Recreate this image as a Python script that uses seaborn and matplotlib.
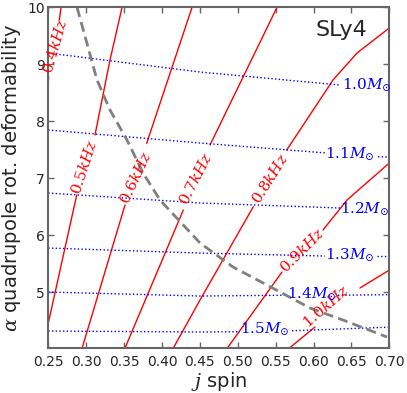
import numpy as np
import pandas as pd
import matplotlib
matplotlib.use("Agg")
import matplotlib.pyplot as plt
import seaborn as sns

# spin frequency contours (red), split in two pieces around the inline label
f04_hi_x = [0.2668, 0.2645]
f04_hi_y = [10.0, 9.777]
f04_lo_x = [0.2504, 0.2495]
f04_lo_y = [8.783, 8.60]
f05_hi_x = [0.3473, 0.3314, 0.3116]
f05_hi_y = [10.0, 9.076, 7.760]
f05_lo_x = [0.2875, 0.2500]
f05_lo_y = [6.708, 4.462]
f06_hi_x = [0.4397, 0.3798]
f06_hi_y = [10.0, 7.614]
f06_lo_x = [0.3512, 0.2941]
f06_lo_y = [6.532, 4.0]
f07_hi_x = [0.5518, 0.4634]
f07_hi_y = [10.0, 7.585]
f07_lo_x = [0.4281, 0.3505]
f07_lo_y = [6.444, 4.0]
f08_hi_x = [0.7000, 0.6574, 0.6257, 0.5646]
f08_hi_y = [9.637, 9.198, 8.725, 7.497]
f08_lo_x = [0.5205, 0.4502, 0.4140]
f08_lo_y = [6.502, 4.866, 4.0]
f09_hi_x = [0.7000, 0.6442, 0.6125]
f09_hi_y = [7.269, 6.620, 6.094]
f09_lo_x = [0.5584, 0.4850]
f09_lo_y = [5.357, 4.0]
f10_hi_x = [0.7000, 0.6613]
f10_hi_y = [5.392, 5.077]
f10_lo_x = [0.6019, 0.5660]
f10_lo_y = [4.392, 4.0]

freq_labels = ["0.4kHz", "0.5kHz", "0.6kHz", "0.7kHz", "0.8kHz", "0.9kHz", "1.0kHz"]
freq_lx = [0.2592, 0.2984, 0.3653, 0.4445, 0.5426, 0.5852, 0.6168]
freq_ly = [9.326, 7.204, 7.018, 7.001, 7.001, 5.731, 4.748]
freq_rot = [74, 72, 65, 63, 58, 45, 41]

# mass contours (blue dotted), head piece and tail piece after the label
m10_x = [0.25, 0.4502, 0.6349]
m10_y = [9.198, 8.865, 8.637]
m11_x = [0.25, 0.4502, 0.6178]
m11_y = [7.848, 7.620, 7.444]
m11_tail_x = [0.6851, 0.70]
m11_tail_y = [7.379, 7.374]
m12_x = [0.25, 0.4502, 0.6349]
m12_y = [6.743, 6.568, 6.480]
m13_x = [0.25, 0.4502, 0.6151]
m13_y = [5.778, 5.690, 5.637]
m13_tail_x = [0.6838, 0.70]
m13_tail_y = [5.637, 5.637]
m14_x = [0.25, 0.4502, 0.5650]
m14_y = [5.006, 4.936, 4.950]
m14_tail_x = [0.6323, 0.70]
m14_tail_y = [4.950, 4.960]
m15_x = [0.25, 0.4502, 0.5030]
m15_y = [4.322, 4.305, 4.310]
m15_tail_x = [0.5716, 0.70]
m15_tail_y = [4.327, 4.390]

mass_labels = ["1.0", "1.1", "1.2", "1.3", "1.4", "1.5"]
mass_lx = [0.6372, 0.6151, 0.6349, 0.6151, 0.5646, 0.5030]
mass_ly = [8.549, 7.351, 6.387, 5.568, 4.896, 4.282]

# dashed gray curve
gray_x = [0.2879, 0.3143, 0.3314, 0.3539, 0.3750, 0.3974, 0.4502, 0.4937, 0.5386, 0.5953, 0.6389, 0.6970]
gray_y = [10.0, 8.725, 8.199, 7.672, 7.094, 6.620, 5.866, 5.445, 5.129, 4.726, 4.515, 4.217]


def long_frame(pieces):
    rows = []
    for i, (xs, ys) in enumerate(pieces):
        for x, y in zip(xs, ys):
            rows.append((x, y, i))
    return pd.DataFrame(rows, columns=["x", "y", "seg"])


sns.set_style("ticks")
plt.rcParams["mathtext.fontset"] = "dejavuserif"
plt.rcParams["font.family"] = ["DejaVu Sans"]

fig = plt.figure(figsize=(4.07, 3.93), dpi=100)
ax = fig.add_axes([0.1187, 0.1153, 0.8378, 0.8661])

red = long_frame([(f04_hi_x, f04_hi_y), (f04_lo_x, f04_lo_y),
                  (f05_hi_x, f05_hi_y), (f05_lo_x, f05_lo_y),
                  (f06_hi_x, f06_hi_y), (f06_lo_x, f06_lo_y),
                  (f07_hi_x, f07_hi_y), (f07_lo_x, f07_lo_y),
                  (f08_hi_x, f08_hi_y), (f08_lo_x, f08_lo_y),
                  (f09_hi_x, f09_hi_y), (f09_lo_x, f09_lo_y),
                  (f10_hi_x, f10_hi_y), (f10_lo_x, f10_lo_y)])
sns.lineplot(data=red, x="x", y="y", units="seg", estimator=None, sort=False,
             color="red", lw=1.0, ax=ax, legend=False)

blue = long_frame([(m10_x, m10_y), (m11_x, m11_y), (m11_tail_x, m11_tail_y),
                   (m12_x, m12_y), (m13_x, m13_y), (m13_tail_x, m13_tail_y),
                   (m14_x, m14_y), (m14_tail_x, m14_tail_y),
                   (m15_x, m15_y), (m15_tail_x, m15_tail_y)])
sns.lineplot(data=blue, x="x", y="y", units="seg", estimator=None, sort=False,
             color="blue", lw=1.0, ls=":", ax=ax, legend=False)

gray = pd.DataFrame({"x": gray_x, "y": gray_y})
sns.lineplot(data=gray, x="x", y="y", sort=False, estimator=None, color="gray",
             lw=2.0, dashes=False, ax=ax, legend=False)
ax.lines[-1].set_dashes((3.6, 1.9))

for lab, x, y, r in zip(freq_labels, freq_lx, freq_ly, freq_rot):
    ax.text(x, y, r"$\mathit{%s}$" % lab, color="red", fontsize=11, rotation=r,
            rotation_mode="anchor", ha="center", va="center")

for lab, x, y in zip(mass_labels, mass_lx, mass_ly):
    ax.text(x, y, r"$\mathit{%sM}_{\odot}$" % lab, color="blue", fontsize=11,
            ha="left", va="baseline")

ax.text(0.935, 0.962, "SLy4", transform=ax.transAxes, fontsize=16,
        ha="right", va="top")

ax.set_xlim(0.25, 0.70)
ax.set_ylim(4.03, 10)
ax.set_xticks(np.arange(0.25, 0.701, 0.05))
ax.set_xticklabels(["%.2f" % v for v in np.arange(0.25, 0.701, 0.05)])
ax.set_yticks([5, 6, 7, 8, 9, 10])
ax.set_xlabel(r"$j$ spin", fontsize=14, labelpad=1)
ax.set_ylabel(r"$\alpha$ quadrupole rot. deformability", fontsize=14, labelpad=3)
ax.tick_params(direction="in", top=True, right=True, length=4, width=1,
               color="0.4", labelsize=10)
ax.tick_params(axis="x", pad=5)
ax.tick_params(axis="y", pad=2.5)
for s in ax.spines.values():
    s.set_color("0.4")
    s.set_linewidth(1.5)

fig.savefig("out.png", dpi=100)
